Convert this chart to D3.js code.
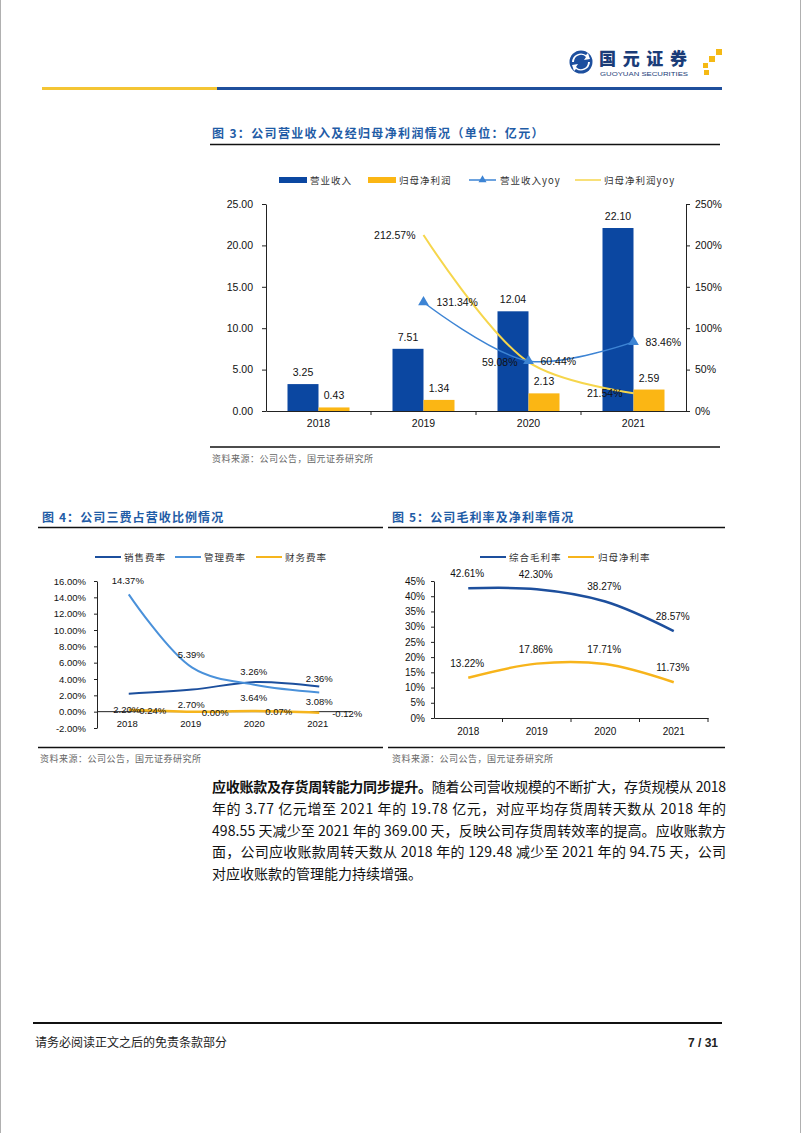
<!DOCTYPE html>
<html><head><meta charset="utf-8">
<script src="https://cdn.jsdelivr.net/npm/d3@7"></script>
<style>body{margin:0;background:#fff} svg{display:block}</style>
</head><body><svg id="c" width="802" height="1133"></svg>
<script>
// ---------- DATA ----------
const years = ["2018", "2019", "2020", "2021"];
// Figure 3
const revenue = [3.25, 7.51, 12.04, 22.10];
const netProfit = [0.43, 1.34, 2.13, 2.59];
const revenueYoy = [null, 131.34, 60.44, 83.46];
const netProfitYoy = [null, 212.57, 59.08, 21.54];
const fig3LeftTicks = [0, 5, 10, 15, 20, 25];
const fig3RightTicks = [0, 50, 100, 150, 200, 250];
// Figure 4
const salesRate = [2.20, 2.70, 3.64, 3.08];
const mgmtRate = [14.37, 5.39, 3.26, 2.36];
const finRate = [0.24, 0.00, 0.07, -0.12];
const fig4Ticks = [-2, 0, 2, 4, 6, 8, 10, 12, 14, 16];
// Figure 5
const grossMargin = [42.61, 42.30, 38.27, 28.57];
const netMargin = [13.22, 17.86, 17.71, 11.73];
const fig5Ticks = [0, 5, 10, 15, 20, 25, 30, 35, 40, 45];

// ---------- SETUP ----------
const svg = d3.select("#c");
const CJK = "'Noto Sans CJK SC', 'Noto Sans', sans-serif";
const NUM = "'Liberation Sans', Arial, sans-serif";
const TITLE = "#1f5ca6";
const smooth = d3.curveCatmullRom.alpha(0.5);

svg.append("rect").attr("width", 802).attr("height", 1133).attr("fill", "#fff");
svg.append("line").attr("x1", 0.5).attr("x2", 0.5).attr("y1", 0).attr("y2", 1133).attr("stroke", "#b0b0b0");
svg.append("line").attr("x1", 800.5).attr("x2", 800.5).attr("y1", 0).attr("y2", 1133).attr("stroke", "#b0b0b0");

// ---------- HEADER ----------
const logo = svg.append("g");
logo.append("circle").attr("cx", 581).attr("cy", 62).attr("r", 11.5).attr("fill", "#1d4f9e");
logo.append("path").attr("d", "M574,62 A7,7 0 0 1 586,57 L584,60 L590,59 L588,53 L586,55 A9,9 0 0 0 572,62 Z").attr("fill", "#fff");
logo.append("path").attr("d", "M588,62 A7,7 0 0 1 576,67 L578,64 L572,65 L574,71 L576,69 A9,9 0 0 0 590,62 Z").attr("fill", "#fff");
logo.append("text").attr("x", 599).attr("y", 65).attr("font-family", CJK).attr("font-weight", 900)
  .attr("font-size", 17).attr("textLength", 88).attr("lengthAdjust", "spacing").attr("fill", "#1a3c78").text("国元证券");
logo.append("text").attr("x", 600).attr("y", 76).attr("font-family", NUM).attr("font-size", 6)
  .attr("textLength", 88).attr("lengthAdjust", "spacingAndGlyphs").attr("fill", "#1a3c78").text("GUOYUAN SECURITIES");
[[716, 49, 6], [709, 56, 6], [703, 63, 5], [704, 70, 5]].forEach(s =>
  logo.append("rect").attr("x", s[0]).attr("y", s[1]).attr("width", s[2]).attr("height", s[2]).attr("fill", "#f5b914"));
svg.append("rect").attr("x", 42).attr("y", 87).attr("width", 175).attr("height", 3).attr("fill", "#f4c534");
svg.append("rect").attr("x", 217).attr("y", 87).attr("width", 505).attr("height", 3).attr("fill", "#1f4f9c");

function title(x, y, t, ls) {
  svg.append("text").attr("x", x).attr("y", y).attr("font-family", CJK).attr("font-weight", 700)
    .attr("font-size", 12).attr("letter-spacing", ls).attr("fill", TITLE).text(t);
}
function hline(x1, x2, y, w) {
  svg.append("line").attr("x1", x1).attr("x2", x2).attr("y1", y).attr("y2", y).attr("stroke", "#111").attr("stroke-width", w);
}
function source(x, y) {
  svg.append("text").attr("x", x).attr("y", y).attr("font-family", CJK).attr("font-size", 9)
    .attr("letter-spacing", 0.5).attr("fill", "#666").text("资料来源：公司公告，国元证券研究所");
}
function legendText(x, y, t) {
  svg.append("text").attr("x", x).attr("y", y + 3.5).attr("font-family", CJK).attr("font-size", 9.5)
    .attr("letter-spacing", 1).attr("fill", "#333").text(t);
}
function styleAxis(g, fs) {
  g.select(".domain").attr("stroke", "#222");
  g.selectAll(".tick line").attr("stroke", "#222");
  g.selectAll(".tick text").attr("font-family", NUM).attr("font-size", fs).attr("fill", "#111");
}

// ---------- FIGURE 3 ----------
title(212, 138, "图 3：公司营业收入及经归母净利润情况（单位：亿元）", 1.35);
hline(210, 720, 144.5, 1.5);
// legend
svg.append("rect").attr("x", 279).attr("y", 177).attr("width", 28).attr("height", 6).attr("fill", "#0b47a1");
legendText(310, 180, "营业收入");
svg.append("rect").attr("x", 368).attr("y", 177).attr("width", 28).attr("height", 6).attr("fill", "#fbb614");
legendText(399, 180, "归母净利润");
svg.append("line").attr("x1", 469).attr("x2", 496).attr("y1", 180).attr("y2", 180).attr("stroke", "#3d84d4").attr("stroke-width", 1.5);
svg.append("path").attr("d", d3.symbol(d3.symbolTriangle, 28)()).attr("transform", "translate(482.5,180)").attr("fill", "#3d84d4");
legendText(500, 180, "营业收入yoy");
svg.append("line").attr("x1", 575).attr("x2", 601).attr("y1", 180).attr("y2", 180).attr("stroke", "#f6d64c").attr("stroke-width", 1.5);
legendText(604, 180, "归母净利润yoy");

const x3 = d3.scaleBand().domain(years).range([266, 686]);
const yL = d3.scaleLinear().domain([0, 25]).range([411, 204]);
const yR = d3.scaleLinear().domain([0, 250]).range([411, 204]);
const sub3 = d3.scaleBand().domain(["rev", "np"]).range([x3.bandwidth() / 2 - 31, x3.bandwidth() / 2 + 31]);

const g3 = svg.append("g");
g3.append("g").selectAll("rect").data(years).join("rect")
  .attr("x", d => x3(d) + sub3("rev")).attr("width", sub3.bandwidth())
  .attr("y", (d, i) => yL(revenue[i])).attr("height", (d, i) => yL(0) - yL(revenue[i])).attr("fill", "#0b47a1");
g3.append("g").selectAll("rect").data(years).join("rect")
  .attr("x", d => x3(d) + sub3("np")).attr("width", sub3.bandwidth())
  .attr("y", (d, i) => yL(netProfit[i])).attr("height", (d, i) => yL(0) - yL(netProfit[i])).attr("fill", "#fbb614");

const la = g3.append("g").attr("transform", "translate(266,0)")
  .call(d3.axisLeft(yL).tickValues(fig3LeftTicks).tickFormat(d3.format(".2f")).tickSize(4).tickSizeOuter(0).tickPadding(9));
styleAxis(la, 10.5);
const ra = g3.append("g").attr("transform", "translate(686,0)")
  .call(d3.axisRight(yR).tickValues(fig3RightTicks).tickFormat(d => d + "%").tickSize(4).tickSizeOuter(0).tickPadding(5));
styleAxis(ra, 10.5);
const ba = g3.append("g").attr("transform", "translate(0,411)")
  .call(d3.axisBottom(x3).tickSize(0).tickSizeOuter(0).tickPadding(9));
styleAxis(ba, 10.5);
g3.append("g").selectAll("line").data(years.slice(1)).join("line")
  .attr("x1", d => x3(d)).attr("x2", d => x3(d)).attr("y1", 411).attr("y2", 415).attr("stroke", "#222");

// bar labels
const lab = (g, x, y, t, anchor, fs) => g.append("text").attr("x", x).attr("y", y).attr("text-anchor", anchor || "middle")
  .attr("font-family", NUM).attr("font-size", fs).attr("fill", "#111").text(t);
years.forEach((d, i) => {
  lab(g3, x3(d) + sub3("rev") + sub3.bandwidth() / 2, yL(revenue[i]) - 8, revenue[i].toFixed(2), "middle", 10.5);
  lab(g3, x3(d) + sub3("np") + sub3.bandwidth() / 2, yL(netProfit[i]) - 8, netProfit[i].toFixed(2), "middle", 10.5);
});
// yoy lines
const cx3 = d => x3(d) + x3.bandwidth() / 2;
const idx = [1, 2, 3];
const npLine = d3.line().x(i => cx3(years[i])).y(i => yR(netProfitYoy[i])).curve(smooth);
g3.append("path").attr("d", npLine(idx)).attr("fill", "none").attr("stroke", "#f6d64c").attr("stroke-width", 2);
const revLine = d3.line().x(i => cx3(years[i])).y(i => yR(revenueYoy[i])).curve(smooth);
g3.append("path").attr("d", revLine(idx)).attr("fill", "none").attr("stroke", "#3d84d4").attr("stroke-width", 1.5);
idx.forEach(i => g3.append("path").attr("d", d3.symbol(d3.symbolTriangle, 50)())
  .attr("transform", `translate(${cx3(years[i])},${yR(revenueYoy[i])})`).attr("fill", "#3d84d4"));
// yoy label offsets (dx)
const revYoyOffsets = [null, 13, 12, 12];
const npYoyOffsets = [null, -8, -11, -11];
idx.forEach(i => {
  lab(g3, cx3(years[i]) + revYoyOffsets[i], yR(revenueYoy[i]) + 4, revenueYoy[i].toFixed(2) + "%", "start", 10.5);
  lab(g3, cx3(years[i]) + npYoyOffsets[i], yR(netProfitYoy[i]) + 4, netProfitYoy[i].toFixed(2) + "%", "end", 10.5);
});
hline(210, 720, 447, 1.5);
source(212, 462);

// ---------- FIGURE 4 ----------
title(42, 522, "图 4：公司三费占营收比例情况", 1.1);
hline(38, 383, 527.5, 1.5);
const c4 = ["#1c4f9d", "#4a91da", "#f6b51d"];
[[95, 121, 124, "销售费率"], [175, 201, 204, "管理费率"], [256, 282, 285, "财务费率"]].forEach((l, k) => {
  svg.append("line").attr("x1", l[0]).attr("x2", l[1]).attr("y1", 557).attr("y2", 557).attr("stroke", c4[k]).attr("stroke-width", 2);
  legendText(l[2], 557, l[3]);
});
const x4 = d3.scaleBand().domain(years).range([97, 351]);
const y4 = d3.scaleLinear().domain([-2, 16]).range([728, 581]);
const g4 = svg.append("g");
const a4 = g4.append("g").attr("transform", "translate(97,0)")
  .call(d3.axisLeft(y4).tickValues(fig4Ticks).tickFormat(d => d.toFixed(2) + "%").tickSize(3).tickSizeOuter(0).tickPadding(8));
styleAxis(a4, 9.5);
g4.append("line").attr("x1", 97).attr("x2", 351).attr("y1", y4(0)).attr("y2", y4(0)).attr("stroke", "#222");
const cx4 = d => x4(d) + x4.bandwidth() / 2;
years.forEach((d, i) => lab(g4, cx4(d) - 1.5, y4(0) + 15, d, "middle", 9.5));
const series4 = [salesRate, mgmtRate, finRate];
const line4 = vals => d3.line().x((v, i) => cx4(years[i])).y(v => y4(v)).curve(smooth)(vals);
series4.forEach((s, k) => g4.append("path").attr("d", line4(s)).attr("fill", "none")
  .attr("stroke", c4[k]).attr("stroke-width", k === 2 ? 2.5 : 2));
// label offsets per series: [dx, dy]
const off4 = [[[-2, 19], [-1, 18], [-2, 19], [0, 18]], [[-1, -10], [-1, -10], [-2, -10], [0, -10]], [[24, 4], [23, 4], [23, 4], [28, 4]]];
series4.forEach((s, k) => s.forEach((v, i) =>
  lab(g4, cx4(years[i]) + off4[k][i][0], y4(v) + off4[k][i][1], v.toFixed(2) + "%", "middle", 9.5)));
hline(38, 383, 747.5, 1.5);
source(40, 762);

// ---------- FIGURE 5 ----------
title(392, 522, "图 5：公司毛利率及净利率情况", 1.1);
hline(388, 725, 527.5, 1.5);
const c5 = ["#1d4f9d", "#f7b41b"];
[[480, 506, 509, "综合毛利率"], [568, 594, 598, "归母净利率"]].forEach((l, k) => {
  svg.append("line").attr("x1", l[0]).attr("x2", l[1]).attr("y1", 557).attr("y2", 557).attr("stroke", c5[k]).attr("stroke-width", 2);
  legendText(l[2], 557, l[3]);
});
const x5 = d3.scaleBand().domain(years).range([434, 708]);
const y5 = d3.scaleLinear().domain([0, 45]).range([718, 581]);
const g5 = svg.append("g");
const a5 = g5.append("g").attr("transform", "translate(434,0)")
  .call(d3.axisLeft(y5).tickValues(fig5Ticks).tickFormat(d => d + "%").tickSize(3).tickSizeOuter(0).tickPadding(6));
styleAxis(a5, 10);
const b5 = g5.append("g").attr("transform", "translate(0,718)")
  .call(d3.axisBottom(x5).tickSize(0).tickSizeOuter(0).tickPadding(10));
styleAxis(b5, 10);
g5.append("g").selectAll("line").data([...years.slice(1).map(d => x5(d)), 708]).join("line")
  .attr("x1", d => d).attr("x2", d => d).attr("y1", 718).attr("y2", 722).attr("stroke", "#222");
const cx5 = d => x5(d) + x5.bandwidth() / 2;
const line5 = vals => d3.line().x((v, i) => cx5(years[i])).y(v => y5(v)).curve(smooth)(vals);
[grossMargin, netMargin].forEach((s, k) => {
  g5.append("path").attr("d", line5(s)).attr("fill", "none").attr("stroke", c5[k]).attr("stroke-width", 2.5);
  s.forEach((v, i) => lab(g5, cx5(years[i]) - 1, y5(v) - 11, v.toFixed(2) + "%", "middle", 10));
});
hline(388, 725, 747.5, 1.5);
source(392, 762);

// ---------- PARAGRAPH ----------
const para = svg.append("g").attr("font-family", CJK).attr("font-size", 14).attr("fill", "#111");
const lines = [
  [["应收账款及存货周转能力同步提升。", true], ["随着公司营收规模的不断扩大，存货规模从 2018", false]],
  [["年的 3.77 亿元增至 2021 年的 19.78 亿元，对应平均存货周转天数从 2018 年的", false]],
  [["498.55 天减少至 2021 年的 369.00 天，反映公司存货周转效率的提高。应收账款方", false]],
  [["面，公司应收账款周转天数从 2018 年的 129.48 减少至 2021 年的 94.75 天，公司", false]],
  [["对应收账款的管理能力持续增强。", false]]
];
lines.forEach((ln, r) => {
  const t = para.append("text").attr("x", 212).attr("y", 792 + r * 21.8);
  if (r < 4) t.attr("textLength", 514).attr("lengthAdjust", "spacing");
  ln.forEach(seg => t.append("tspan").attr("font-weight", seg[1] ? 700 : 400).text(seg[0]));
});

// ---------- FOOTER ----------
hline(33, 722, 1023, 2);
svg.append("text").attr("x", 35).attr("y", 1047).attr("font-family", CJK).attr("font-size", 12)
  .attr("fill", "#222").text("请务必阅读正文之后的免责条款部分");
svg.append("text").attr("x", 718).attr("y", 1047).attr("text-anchor", "end").attr("font-family", NUM)
  .attr("font-weight", 700).attr("font-size", 12).attr("fill", "#222").text("7 / 31");
</script></body></html>
